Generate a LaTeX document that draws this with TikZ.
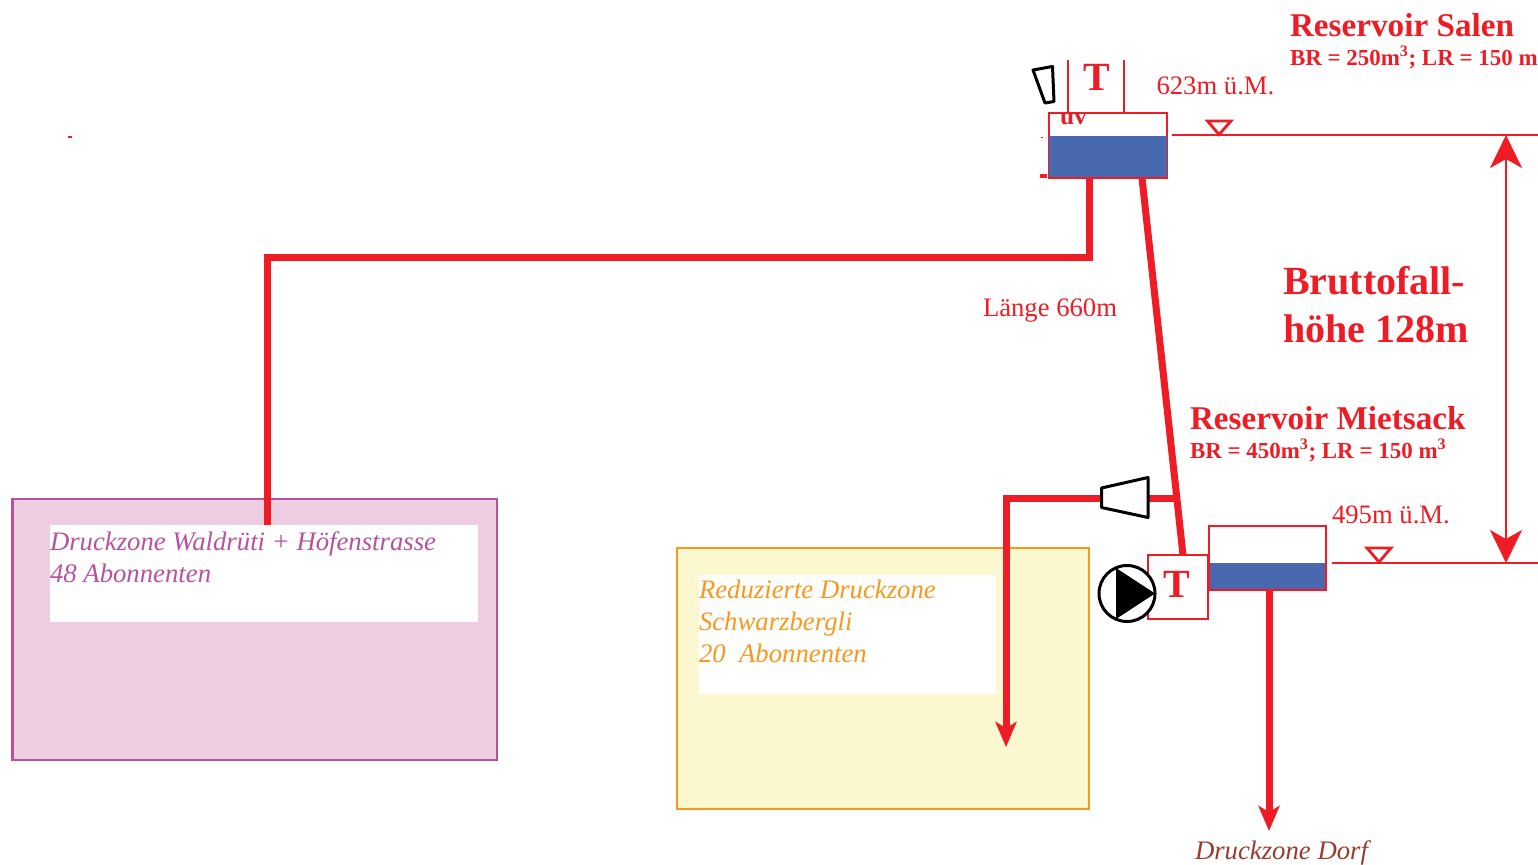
\documentclass[tikz,border=0pt]{standalone}
\usepackage{fontspec}
\setmainfont{Liberation Serif}
\usetikzlibrary{arrows.meta}
\definecolor{rd}{HTML}{EE1C25}
\definecolor{wat}{HTML}{4868B0}
\definecolor{pk}{HTML}{B8529F}
\definecolor{pkf}{HTML}{EDCDE2}
\definecolor{org}{HTML}{F8991D}
\definecolor{orf}{HTML}{FBF7CF}
\definecolor{brn}{HTML}{9B3A2E}
\tikzset{
  every node/.style={outer sep=0pt},
  pipe/.style={draw=rd,line width=7pt*0.75},
  pipearrow/.style={pipe,-{Stealth[length=25pt*0.75,width=21pt*0.75,inset=6pt*0.75]}},
  thin red/.style={draw=rd,line width=2.8pt*0.75},
  blackline/.style={draw=black,line width=3pt*0.75,fill=white},
  boxline/.style={line width=2.4pt*0.75,inner sep=0pt,anchor=north west},
  tit/.style={anchor=base west,inner sep=0pt,text=rd,font=\bfseries\fontsize{24.9}{24.9}\selectfont},
  sub/.style={anchor=base west,inner sep=0pt,text=rd,font=\bfseries\fontsize{17.2}{17.2}\selectfont},
  lab/.style={anchor=base west,inner sep=0pt,text=rd,font=\fontsize{20}{20}\selectfont},
  zone/.style={anchor=base west,inner sep=0pt,font=\itshape\fontsize{20.05}{20.05}\selectfont},
  tee/.style={anchor=base,inner sep=0pt,text=rd,font=\bfseries\fontsize{30}{30}\selectfont},
  big/.style={anchor=base west,inner sep=0pt,text=rd,font=\bfseries\fontsize{30}{30}\selectfont}
}
\begin{document}
\begin{tikzpicture}[x=0.75pt,y=-0.75pt]
\useasboundingbox (0,0) rectangle (1538,864);
% zones
\node[boxline,draw=pk,fill=pkf,minimum width=484.5*0.75pt,minimum height=261*0.75pt] (zoneA) at (12.5,499) {};
\node[fill=white,minimum width=428*0.75pt,minimum height=97*0.75pt,inner sep=0pt,anchor=north west] (whiteA) at (50,525) {};
\node[boxline,draw=org,fill=orf,minimum width=412*0.75pt,minimum height=261*0.75pt] (zoneB) at (677,548) {};
\node[fill=white,minimum width=297*0.75pt,minimum height=119*0.75pt,inner sep=0pt,anchor=north west] (whiteB) at (699,575) {};
\node[zone,text=pk] (ta1) at (50,550) {Druckzone Waldrüti + Höfenstrasse};
\node[zone,text=pk] (ta2) at (50,582) {48 Abonnenten};
\node[zone,text=org] (tb1) at (699,598.5) {Reduzierte Druckzone};
\node[zone,text=org] (tb2) at (699,630) {Schwarzbergli};
\node[zone,text=org] (tb3) at (699,662) {20\ \ Abonnenten};
% upper reservoir
\node[boxline,fill=white,draw=rd,minimum width=118*0.75pt,minimum height=64.5*0.75pt] (resS) at (1049,113) {};
\begin{scope}
\clip (1050,113.5) rectangle (1166,140);
\node[anchor=base west,inner sep=0pt,text=rd,font=\bfseries\fontsize{19}{19}\selectfont] (uv) at (1060,124) {uv};
\end{scope}
\fill[wat] (1049,135.5) rectangle (1167,177);
\coordinate (t1a) at (1068,60); \coordinate (t1b) at (1068,113);
\coordinate (t2a) at (1124,60); \coordinate (t2b) at (1124,113);
\draw[thin red] (t1a) -- (t1b);
\draw[thin red] (t2a) -- (t2b);
\node[tee] (T1) at (1097,90) {T};
\draw[blackline,line join=round] (1033,70) -- (1052.5,66.5) -- (1054,101.5) -- (1045,103) -- cycle;
\fill[rd] (1040,174) rectangle (1047,178);
\fill[rd] (1041,136.5) rectangle (1043,138);
\fill[rd] (68,136) rectangle (72,138);
% level Salen
\coordinate (lvS1) at (1172,135); \coordinate (lvS2) at (1538,135);
\draw[thin red] (lvS1) -- (lvS2);
\draw[thin red,fill=white] (1207.5,121) -- (1231,121) -- (1219,134.5) -- cycle;
\node[lab] (h1) at (1156.5,94) {623m ü.M.};
\node[tit] (rs) at (1290,36) {Reservoir Salen};
\node[sub] (rsb) at (1290,65) {BR = 250m\textsuperscript{3}; LR = 150 m};
% lower reservoir
\node[boxline,fill=white,draw=rd,minimum width=117*0.75pt,minimum height=64*0.75pt] (resM) at (1209,526) {};
\fill[wat] (1209,563) rectangle (1326,590);
\draw[rd,line width=2.4pt*0.75] (1209,526) rectangle (1326,590);
\node[boxline,fill=white,draw=rd,minimum width=60*0.75pt,minimum height=64*0.75pt] (boxT) at (1148,555) {};
\node[tee] (T2) at (1176.5,597) {T};
% level Mietsack
\coordinate (lvM1) at (1332,563); \coordinate (lvM2) at (1538,563);
\draw[thin red] (lvM1) -- (lvM2);
\draw[thin red,fill=white] (1367,548) -- (1391,548) -- (1379,562) -- cycle;
\node[lab] (h2) at (1332,523) {495m ü.M.};
\node[tit] (rm) at (1190,429) {Reservoir Mietsack};
\node[sub] (rmb) at (1190,458) {BR = 450m\textsuperscript{3}; LR = 150 m\textsuperscript{3}};
% pipes
\coordinate (p1) at (1089,178); \coordinate (p2) at (1089,257); \coordinate (p3) at (267,257); \coordinate (p4) at (267,525);
\draw[pipe,line join=miter] (p1) -- (p2) -- (p3) -- (p4);
\coordinate (q1) at (1142,178); \coordinate (q2) at (1183,555);
\draw[pipe] (q1) -- (q2);
\coordinate (r0) at (1175,498); \coordinate (r1) at (1006,498); \coordinate (r2) at (1006,747);
\draw[pipearrow,line join=miter] (r0) -- (r1) -- (r2);
\coordinate (s1) at (1269,590); \coordinate (s2) at (1269,831);
\draw[pipearrow] (s1) -- (s2);
% valve
\draw[blackline,line join=round] (1101.5,488) -- (1148,477.5) -- (1148,517.5) -- (1101.5,507.5) -- cycle;
% pump
\node[circle,draw=black,fill=white,line width=3pt*0.75,minimum size=56*0.75pt,inner sep=0pt] (pump) at (1127,593.5) {};
\fill[black] (1116,568) -- (1155,593.5) -- (1116,619) -- cycle;
% dimension
\coordinate (d1) at (1506,135); \coordinate (d2) at (1506,563);
\draw[thin red,{Stealth[length=33pt*0.75,width=32pt*0.75,inset=9pt*0.75]}-{Stealth[length=33pt*0.75,width=32pt*0.75,inset=9pt*0.75]}] (d1) -- (d2);
\node[big] (b1) at (1283,294) {Bruttofall-};
\node[big] (b2) at (1283,342) {höhe 128m};
\node[lab] (len) at (983,316) {Länge 660m};
\node[zone,text=brn] (dorf) at (1195,859) {Druckzone Dorf};
\end{tikzpicture}
\end{document}
